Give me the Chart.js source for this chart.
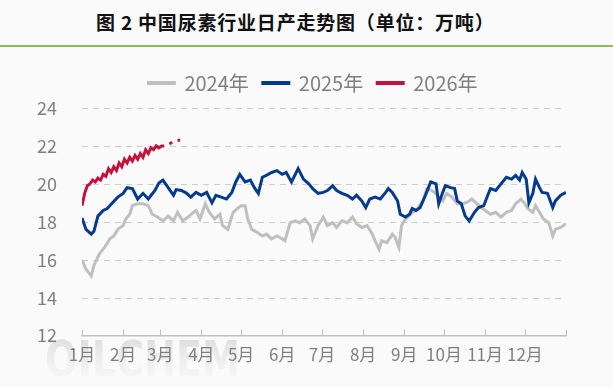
<!DOCTYPE html>
<html>
<head>
<meta charset="utf-8">
<script src="https://cdn.jsdelivr.net/npm/chart.js@4.4.1/dist/chart.umd.min.js"></script>
<style>
  html, body { margin: 0; padding: 0; background: #fafafa; }
  #wrap { position: relative; width: 613px; height: 387px; overflow: hidden; }
  #title {
    position: absolute; left: 96px; top: 8px; letter-spacing: 0.8px;
    font: bold 19px "Noto Sans CJK SC", sans-serif; color: #111; white-space: nowrap;
  }
  #rule { position: absolute; left: 0; top: 45px; width: 613px; height: 2px; background: #8fbd5e; }
  #c { position: absolute; left: 0; top: 0; }
</style>
</head>
<body>
<div id="wrap">
  <div id="title">图 2 中国尿素行业日产走势图（单位：万吨）</div>
  <div id="rule"></div>
  <canvas id="c" width="613" height="387"></canvas>
</div>
<script>
/* ===== data (day of year -> 万吨) ===== */
const monthStarts = [0, 31, 59, 90, 120, 151, 181, 212, 243, 273, 304, 334, 365];
const monthLabels = ["1月", "2月", "3月", "4月", "5月", "6月", "7月", "8月", "9月", "10月", "11月", "12月"];
const seriesNames = ["2024年", "2025年", "2026年"];

const days2024 = [0, 3, 7, 9, 13, 17, 21, 24, 27, 31, 33, 36, 38, 42, 46, 50, 53, 57, 61, 65, 69, 72, 76, 80, 84, 86, 89, 93, 96, 100,
  104, 106, 110, 114, 118, 120, 123, 125, 128, 132, 136, 139, 143, 147, 151, 153, 157, 161, 164, 168, 172, 174, 178, 182, 185, 189,
  192, 196, 200, 204, 207, 211, 215, 219, 221, 224, 226, 230, 234, 236, 239, 241, 244, 248, 253, 257, 260, 264, 268, 272, 275, 279,
  283, 287, 291, 294, 298, 302, 306, 308, 312, 316, 320, 324, 327, 331, 334, 336, 340, 342, 345, 348, 352, 355, 357, 361, 365];
const vals2024 = [16.0, 15.5, 15.15, 15.7, 16.3, 16.65, 17.1, 17.25, 17.6, 17.8, 18.15, 18.4, 18.85, 18.95, 18.95, 18.85, 18.4, 18.25,
  18.05, 18.3, 18.05, 18.5, 18.05, 18.25, 18.5, 18.6, 18.15, 18.95, 18.5, 18.15, 18.4, 17.8, 17.6, 18.5, 18.75, 18.85, 18.85, 18.15,
  17.6, 17.45, 17.25, 17.35, 17.1, 17.25, 17.1, 17.0, 17.95, 18.05, 17.95, 18.15, 17.8, 17.1, 17.8, 18.25, 17.8, 17.95, 17.7, 18.05,
  17.95, 18.25, 17.9, 17.7, 17.8, 17.35, 17.0, 16.55, 17.0, 16.9, 17.35, 17.2, 16.65, 17.8, 18.15, 18.4, 18.7, 19.1, 19.75, 19.65,
  19.4, 19.1, 19.5, 19.3, 18.95, 18.95, 19.05, 19.2, 18.95, 18.7, 18.5, 18.4, 18.5, 18.25, 18.5, 18.6, 18.95, 19.2, 18.95, 18.7,
  18.5, 18.85, 18.5, 18.15, 17.95, 17.25, 17.6, 17.7, 17.9];

const days2025 = [0, 3, 7, 9, 12, 16, 19, 23, 27, 31, 34, 38, 42, 46, 50, 55, 58, 61, 65, 69, 71, 75, 79, 82, 86, 90, 94, 98, 101,
  105, 109, 113, 116, 119, 123, 127, 130, 133, 136, 139, 143, 147, 151, 154, 158, 163, 167, 171, 174, 178, 182, 185, 189, 192, 196,
  200, 204, 207, 211, 214, 217, 221, 225, 229, 231, 234, 238, 240, 244, 247, 249, 252, 255, 259, 263, 267, 269, 272, 274, 278, 281,
  283, 286, 289, 292, 296, 299, 303, 306, 308, 312, 316, 320, 324, 327, 330, 332, 335, 337, 340, 342, 345, 347, 351, 355, 357, 361, 365];
const vals2025 = [18.2, 17.6, 17.35, 17.5, 18.3, 18.6, 18.7, 19.0, 19.3, 19.5, 19.8, 19.75, 19.2, 19.5, 19.2, 19.65, 20.05, 20.2,
  19.8, 19.4, 19.7, 19.65, 19.5, 19.3, 19.55, 19.4, 19.55, 19.0, 19.4, 19.3, 19.2, 19.55, 20.1, 20.5, 20.1, 20.2, 19.8, 19.5, 20.35,
  20.45, 20.6, 20.7, 20.5, 20.6, 20.1, 20.8, 20.25, 20.0, 19.75, 19.5, 19.55, 19.65, 19.9, 19.65, 19.5, 19.4, 19.2, 19.4, 19.1,
  18.75, 19.2, 19.3, 19.2, 19.55, 19.75, 19.55, 19.1, 18.4, 18.25, 18.4, 18.7, 18.6, 18.75, 19.4, 20.1, 20.0, 18.95, 19.55, 19.9,
  19.8, 19.75, 19.1, 18.95, 18.3, 18.05, 18.5, 18.75, 18.85, 19.4, 19.75, 19.65, 20.0, 20.35, 20.25, 20.45, 20.2, 20.6, 20.25, 19.0,
  19.5, 20.25, 19.8, 19.55, 19.5, 18.75, 19.1, 19.4, 19.55];

const days2026 = [0, 2, 4, 6, 8, 10, 12, 14, 16, 18, 20, 22, 24, 26, 28, 30, 32, 34, 36, 38, 40, 42, 44, 46, 48, 50, 52, 54, 56, 58,
  60, 62, 64, 66, 68, 70, 72, 74];
const vals2026 = [18.85, 19.5, 19.9, 20.0, 20.2, 20.1, 20.3, 20.2, 20.5, 20.4, 20.8, 20.6, 20.9, 20.7, 21.1, 20.9, 21.3, 21.1, 21.4,
  21.2, 21.5, 21.3, 21.6, 21.4, 21.8, 21.6, 21.9, 21.8, 22.0, 21.9, 22.0, 22.0, null, 22.1, 22.2, null, 22.3, 22.3];

const colors = ["#bfbfbf", "#053b8c", "#c4123d"];

function pts(days, vals) {
  return days.map((d, i) => ({ x: d, y: vals[i] }));
}

/* ===== plugins ===== */
const watermark = {
  id: "watermark",
  beforeDraw(chart) {
    const c = chart.ctx;
    c.save();
    c.textBaseline = "alphabetic";
    c.textAlign = "left";
    c.translate(45, 376);
    c.font = "bold 50px 'DejaVu Sans'";
    const w = c.measureText("OILCHEM").width;
    c.scale(195 / w, 1);
    const g = c.createLinearGradient(0, -37, 0, 8);
    g.addColorStop(0, "rgba(190,190,190,0.45)");
    g.addColorStop(1, "rgba(240,240,240,0.2)");
    c.fillStyle = g;
    c.fillText("OILCHEM", 0, 0);
    c.restore();
  },
};

// 虚线网格
const dashedGrid = {
  id: "dashedGrid",
  beforeDatasetsDraw(chart) {
    const y = chart.scales.y;
    const { left, right } = chart.chartArea;
    const c = chart.ctx;
    c.save();
    c.strokeStyle = "#cccccc";
    c.lineWidth = 1;
    c.setLineDash([6, 5]);
    y.ticks.forEach((t) => {
      if (t.value === y.min) return;
      const py = Math.round(y.getPixelForValue(t.value)) + 0.5;
      c.beginPath();
      c.moveTo(left, py);
      c.lineTo(right, py);
      c.stroke();
    });
    c.restore();
  },
};

// x 轴刻度线朝上
const innerTicks = {
  id: "innerTicks",
  afterDraw(chart) {
    const x = chart.scales.x;
    const c = chart.ctx;
    c.save();
    c.strokeStyle = "#bfbfbf";
    c.lineWidth = 1;
    x.ticks.forEach((t) => {
      const px = Math.round(x.getPixelForValue(t.value)) + 0.5;
      c.beginPath();
      c.moveTo(px, x.top);
      c.lineTo(px, x.top - 6);
      c.stroke();
    });
    c.restore();
  },
};

// 图例整体位置微调
const legendShift = {
  id: "legendShift",
  afterLayout(chart) {
    const lg = chart.legend;
    lg.left += 30; lg.right += 30;
    lg.top -= 5; lg.bottom -= 5;
  },
};

/* ===== chart ===== */
new Chart(document.getElementById("c"), {
  type: "line",
  data: {
    datasets: [
      { label: seriesNames[0], data: pts(days2024, vals2024), order: 3 },
      { label: seriesNames[1], data: pts(days2025, vals2025), order: 2 },
      { label: seriesNames[2], data: pts(days2026, vals2026), order: 1 },
    ].map((ds, i) => ({
      ...ds,
      borderColor: colors[i],
      backgroundColor: colors[i],
      borderWidth: 3,
      pointRadius: 0,
      tension: 0,
      spanGaps: false,
    })),
  },
  options: {
    responsive: false,
    animation: false,
    layout: { padding: { top: 64, right: 47, bottom: 13, left: 0 } },
    plugins: {
      tooltip: { enabled: false },
      legend: {
        labels: {
          boxWidth: 26,
          boxHeight: 1,
          padding: 14,
          color: "#7f7f7f",
          font: { family: "'Noto Sans CJK SC'", size: 20 },
          sort: (a, b) => a.datasetIndex - b.datasetIndex,
        },
      },
    },
    scales: {
      x: {
        type: "linear",
        min: 0,
        max: 365,
        afterBuildTicks: (s) => { s.ticks = monthStarts.map((v) => ({ value: v })); },
        ticks: {
          autoSkip: false,
          maxRotation: 0,
          padding: 9,
          color: "#7f7f7f",
          font: { family: "'Noto Sans CJK SC'", size: 17 },
          callback: (v, i) => monthLabels[i] || "",
        },
        grid: { display: false, drawTicks: false },
        border: { display: true, color: "#bfbfbf", width: 1.5 },
      },
      y: {
        min: 12,
        max: 24,
        afterFit: (s) => { s.width = 82; },
        ticks: {
          stepSize: 2,
          padding: 25,
          color: "#7f7f7f",
          font: { family: "'Noto Sans CJK SC'", size: 18 },
        },
        grid: { display: false, drawTicks: false },
        border: { display: false },
      },
    },
  },
  plugins: [watermark, dashedGrid, innerTicks, legendShift],
});
</script>
</body>
</html>
